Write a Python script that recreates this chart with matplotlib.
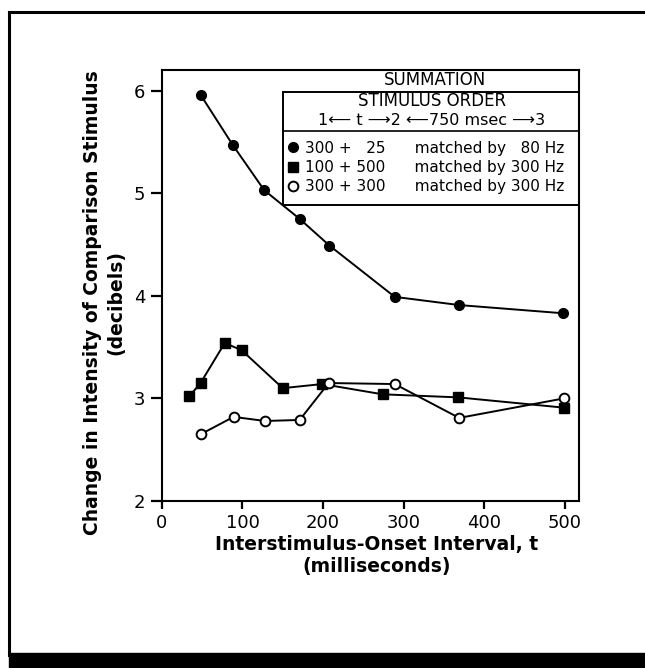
import matplotlib
matplotlib.use("Agg")
import matplotlib.pyplot as plt
from matplotlib.lines import Line2D
from matplotlib.patches import Rectangle

# 300 + 25 matched by 80 Hz (filled circles)
x_circ = [48, 88, 127, 171, 208, 289, 369, 498]
y_circ = [5.96, 5.47, 5.03, 4.75, 4.49, 3.99, 3.91, 3.83]

# 100 + 500 matched by 300 Hz (filled squares)
x_sq = [34, 48, 78, 99, 150, 199, 274, 368, 499]
y_sq = [3.02, 3.15, 3.54, 3.47, 3.10, 3.14, 3.04, 3.01, 2.91]

# 300 + 300 matched by 300 Hz (open circles)
x_open = [48, 89, 128, 171, 207, 289, 369, 499]
y_open = [2.65, 2.82, 2.78, 2.79, 3.15, 3.14, 2.81, 3.00]

labels = ["300 +   25      matched by   80 Hz",
          "100 + 500      matched by 300 Hz",
          "300 + 300      matched by 300 Hz"]
xticks = [0, 100, 200, 300, 400, 500]
yticks = [2, 3, 4, 5, 6]

plt.rcParams['font.family'] = 'DejaVu Sans'

fig = plt.figure(figsize=(6.45, 6.68), dpi=100)
ax = fig.add_axes([0.251, 0.250, 0.647, 0.645])

l1, = ax.plot(x_circ, y_circ, '-o', color='black', lw=1.4, ms=7)
l2, = ax.plot(x_sq, y_sq, '-s', color='black', lw=1.4, ms=6.5)
l3, = ax.plot(x_open, y_open, '-o', color='black', lw=1.4, ms=7,
              mfc='white', mew=1.4)

ax.set_xlim(0, 518)
ax.set_ylim(2, 6.2)
ax.set_xticks(xticks)
ax.set_yticks(yticks)
ax.tick_params(axis='both', direction='out', width=1.6, labelsize=13)
ax.tick_params(axis='y', length=8, pad=4)
ax.tick_params(axis='x', length=6, pad=3)
for s in ax.spines.values():
    s.set_linewidth(1.5)

ax.set_xlabel("Interstimulus-Onset Interval, t\n(milliseconds)",
              fontsize=13.5, fontweight='bold', linespacing=1.25)
ax.xaxis.set_label_coords(0.515, -0.078)
ax.set_ylabel("Change in Intensity of Comparison Stimulus\n(decibels)",
              fontsize=13.5, fontweight='bold', linespacing=1.3)
ax.yaxis.set_label_coords(-0.088, 0.46)

# header / legend box
ax.text(0.655, 0.977, "SUMMATION", transform=ax.transAxes,
        ha='center', va='center', fontsize=12)
ax.add_patch(Rectangle((0.29, 0.687), 0.71, 0.262, transform=ax.transAxes,
                       fill=False, lw=1.4, edgecolor='black', clip_on=False))
ax.add_line(Line2D([0.29, 1.0], [0.858, 0.858], transform=ax.transAxes,
                   color='black', lw=1.2))
ax.text(0.648, 0.929, "STIMULUS ORDER", transform=ax.transAxes,
        ha='center', va='center', fontsize=12)
ax.text(0.646, 0.883, "1\u27f5 t \u27f62 \u27f5750 msec \u27f63",
        transform=ax.transAxes, ha='center', va='center', fontsize=11.5)

leg = ax.legend([l1, l2, l3], labels, loc='upper left',
                bbox_to_anchor=(0.296, 0.843), frameon=False, fontsize=11,
                handlelength=0.6, handletextpad=0.5, labelspacing=0.28,
                borderpad=0.2, borderaxespad=0)
for h in leg.legend_handles:
    h.set_linestyle('')

# page frame from the scanned figure
fig.add_artist(Line2D([0.014, 0.014], [0.02, 0.982], color='black', lw=2.2))
fig.add_artist(Line2D([0.014, 1.0], [0.982, 0.982], color='black', lw=2.2))
fig.add_artist(Rectangle((0.014, 0.0), 0.986, 0.0225, color='black'))

fig.savefig("out.png", dpi=100)
